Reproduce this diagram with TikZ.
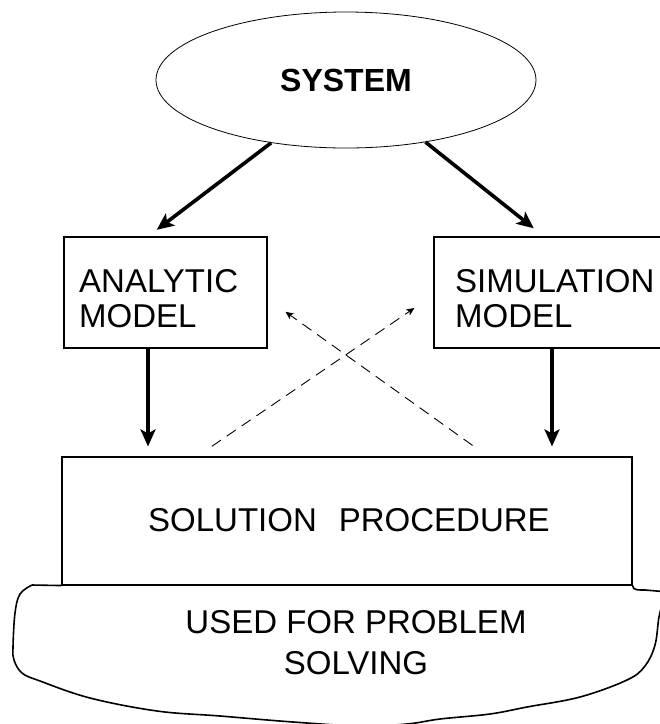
\documentclass[tikz,border=0pt]{standalone}
\usepackage{fontspec}
\setmainfont{Liberation Sans}
\usetikzlibrary{shapes.geometric}
\usetikzlibrary{arrows.meta}
\usetikzlibrary{calc}

\tikzset{
  boxline/.style={draw, line width=1.1pt, inner sep=0pt},
  bigarrow/.style={line width=3.6pt, -{Stealth[length=17pt,width=15pt,inset=4pt]}},
  dasharrow/.style={line width=0.9pt, dash pattern=on 11pt off 7pt, -{Stealth[length=8pt,width=7pt,inset=2pt]}},
  labeltext/.style={font=\fontsize{33}{35}\selectfont, align=left, inner sep=0pt}
}

\begin{document}
\begin{tikzpicture}[x=1pt, y=-1pt]
            \useasboundingbox (0,0) rectangle (660,724);
            \clip (0,0) rectangle (660,724);

            % System
            \node[ellipse, draw, line width=0.8pt, minimum width=380pt, minimum height=136pt,
                  inner sep=0pt, font=\fontsize{32}{34}\selectfont\bfseries] (sys) at (346,80) {SYSTEM};

            % Models
            \node[boxline, minimum width=203pt, minimum height=111pt] (ana) at (165.5,292.5) {};
            \node[labeltext, anchor=west] (anatext) at (79,299) {ANALYTIC\\MODEL};
            \node[boxline, minimum width=250pt, minimum height=111pt] (sim) at (559,292.5) {};
            \node[labeltext, anchor=west] (simtext) at (455,298.5) {SIMULATION\\MODEL};

            % Solution procedure
            \node[boxline, minimum width=570pt, minimum height=128pt] (sol) at (347,521) {};
            \node[labeltext, anchor=west] (soltext) at (148,520) {SOLUTION\hspace{22pt}PROCEDURE};

            % Problem solving (hand drawn outline)
            \draw[line width=1.6pt, line join=round] (sol.south west) -- (32,585)
                plot[smooth, tension=0.6] coordinates {(32,585) (20,594) (15,613) (13,647) (14,660)
                (22,673) (40,681) (90,698) (157,711) (220,716) (293,722) (360,726) (407,724)
                (440,719) (490,714) (527,707) (580,697) (627,680) (645,666) (655,645) (659,617) (664,598)};
            \draw[line width=1.6pt] (sol.south east) to[out=-90, in=180] (645,590) -- (680,593);
            \node[labeltext, align=center, font=\fontsize{33}{41}\selectfont] (use) at (356,642.5)
                {USED FOR PROBLEM\\SOLVING};

            % Main arrows
            \draw[bigarrow, shorten >=11pt] (sys.220.7) -- (ana.north -| 148,0);
            \draw[bigarrow, shorten >=13pt] (sys.322.3) -- (sim.north -| 544,0);
            \draw[bigarrow, shorten >=10pt] (ana.south -| 148,0) -- (sol.north -| 148,0);
            \draw[bigarrow, shorten >=10pt] (sim.south -| 552,0) -- (sol.north -| 552,0);

            % Feedback arrows
            \draw[dasharrow, shorten <=18pt, shorten >=23pt] (sol.north -| 197,0) -- (sim.west |- 0,295);
            \draw[dasharrow, shorten <=19pt, shorten >=22pt] (sol.north -| 488,0) -- (ana.east |- 0,299);

\end{tikzpicture}
\end{document}
